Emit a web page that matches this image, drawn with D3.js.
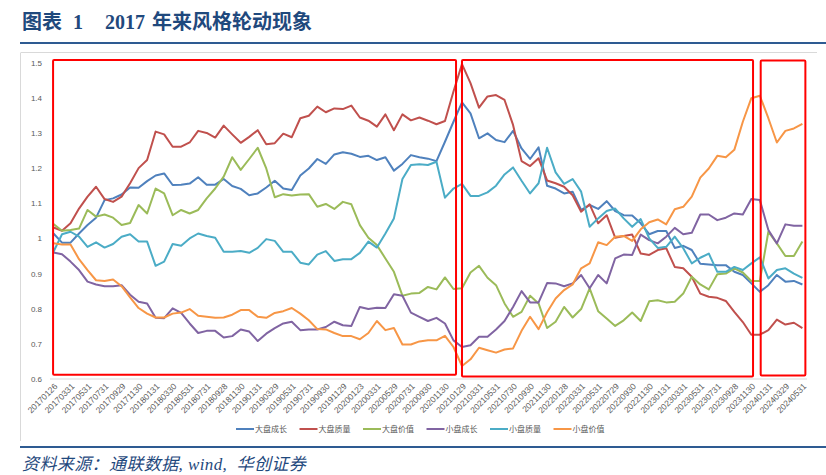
<!DOCTYPE html>
<html>
<head>
<meta charset="utf-8">
<script src="https://cdn.jsdelivr.net/npm/d3@7"></script>
<style>
    body { margin: 0; background: #fff; }
    .axis text { font-family: "Liberation Sans", Arial, sans-serif; fill: #595959; }
    .axis path, .axis line { stroke: none; }
    .legend--label { font-family: "Noto Sans CJK SC", sans-serif; font-size: 8px; fill: #595959; }
</style>
</head>
<body>
<div id="chart"></div>
<script>

/*
DATA
*/
const dates = [
    "20170126","20170228","20170331","20170428","20170531","20170630","20170731","20170831","20170929","20171031","20171130","20171229",
    "20180131","20180228","20180330","20180427","20180531","20180629","20180731","20180831","20180928","20181031","20181130","20181228",
    "20190131","20190228","20190329","20190430","20190531","20190628","20190731","20190830","20190930","20191031","20191129","20191231",
    "20200123","20200228","20200331","20200430","20200529","20200630","20200731","20200831","20200930","20201030","20201130","20201231",
    "20210129","20210226","20210331","20210430","20210531","20210630","20210730","20210831","20210930","20211029","20211130","20211231",
    "20220128","20220228","20220331","20220429","20220531","20220630","20220729","20220831","20220930","20221031","20221130","20221230",
    "20230131","20230228","20230331","20230428","20230531","20230630","20230731","20230831","20230928","20231031","20231130","20231229",
    "20240131","20240229","20240329","20240430","20240531"
];

const seriesNames = ["大盘成长", "大盘质量", "大盘价值", "小盘成长", "小盘质量", "小盘价值"];

const bigGrowth = [
    1.014, 0.988, 0.988, 1.014, 1.038, 1.059, 1.109, 1.114, 1.125, 1.145,
    1.144, 1.163, 1.179, 1.185, 1.152, 1.153, 1.156, 1.174, 1.153, 1.153,
    1.169, 1.149, 1.141, 1.123, 1.128, 1.145, 1.164, 1.142, 1.138, 1.179,
    1.199, 1.226, 1.212, 1.239, 1.245, 1.241, 1.232, 1.235, 1.223, 1.231,
    1.193, 1.212, 1.237, 1.231, 1.227, 1.220, 1.275, 1.332, 1.387, 1.356,
    1.285, 1.299, 1.280, 1.274, 1.306, 1.256, 1.226, 1.259, 1.150, 1.142,
    1.128, 1.133, 1.081, 1.095, 1.084, 1.106, 1.078, 1.066, 1.065, 1.043,
    1.012, 1.021, 1.021, 0.973, 0.979, 0.967, 0.928, 0.926, 0.924, 0.924,
    0.905, 0.896, 0.872, 0.848, 0.867, 0.896, 0.877, 0.879, 0.869
];

const bigQuality = [
    1.031, 1.022, 1.043, 1.085, 1.119, 1.147, 1.112, 1.104, 1.119, 1.157,
    1.200, 1.223, 1.304, 1.296, 1.261, 1.261, 1.273, 1.306, 1.300, 1.287,
    1.321, 1.296, 1.272, 1.289, 1.308, 1.268, 1.271, 1.298, 1.288, 1.342,
    1.349, 1.375, 1.359, 1.370, 1.368, 1.378, 1.344, 1.335, 1.318, 1.353,
    1.308, 1.353, 1.336, 1.344, 1.335, 1.325, 1.334, 1.418, 1.496, 1.442,
    1.372, 1.404, 1.408, 1.394, 1.323, 1.220, 1.206, 1.228, 1.165, 1.157,
    1.147, 1.123, 1.076, 1.097, 1.043, 1.066, 1.002, 1.007, 1.011, 0.957,
    0.953, 0.967, 0.972, 0.919, 0.915, 0.891, 0.843, 0.834, 0.831, 0.822,
    0.791, 0.762, 0.726, 0.726, 0.739, 0.769, 0.755, 0.760, 0.745
];

const bigValue = [
    1.041, 1.022, 1.024, 1.028, 1.081, 1.062, 1.068, 1.059, 1.038, 1.044,
    1.095, 1.071, 1.142, 1.128, 1.066, 1.081, 1.071, 1.081, 1.114, 1.142,
    1.176, 1.231, 1.195, 1.226, 1.258, 1.199, 1.117, 1.126, 1.122, 1.125,
    1.126, 1.090, 1.098, 1.084, 1.104, 1.097, 1.038, 1.002, 0.981, 0.943,
    0.905, 0.837, 0.843, 0.845, 0.862, 0.855, 0.889, 0.856, 0.858, 0.903,
    0.922, 0.888, 0.867, 0.815, 0.777, 0.791, 0.837, 0.815, 0.745, 0.763,
    0.805, 0.775, 0.799, 0.858, 0.793, 0.772, 0.751, 0.767, 0.789, 0.765,
    0.821, 0.824, 0.818, 0.820, 0.843, 0.891, 0.869, 0.855, 0.898, 0.900,
    0.915, 0.903, 0.879, 0.879, 1.019, 0.986, 0.950, 0.950, 0.991
];

const smallGrowth = [
    0.960, 0.955, 0.934, 0.910, 0.877, 0.869, 0.864, 0.864, 0.867, 0.840,
    0.820, 0.815, 0.774, 0.773, 0.801, 0.788, 0.758, 0.731, 0.737, 0.737,
    0.718, 0.722, 0.741, 0.735, 0.708, 0.729, 0.745, 0.758, 0.763, 0.739,
    0.741, 0.741, 0.748, 0.763, 0.753, 0.751, 0.805, 0.799, 0.803, 0.802,
    0.841, 0.837, 0.789, 0.777, 0.765, 0.774, 0.758, 0.710, 0.691, 0.696,
    0.720, 0.720, 0.741, 0.765, 0.805, 0.850, 0.818, 0.818, 0.873, 0.872,
    0.864, 0.872, 0.896, 0.858, 0.896, 0.872, 0.943, 0.954, 0.953, 1.011,
    0.995, 0.986, 1.005, 1.030, 1.012, 1.016, 1.068, 1.068, 1.052, 1.059,
    1.071, 1.068, 1.112, 1.109, 1.024, 0.986, 1.040, 1.036, 1.036
];

const smallQuality = [
    0.962, 1.012, 1.019, 1.005, 0.976, 0.989, 0.974, 0.984, 1.005, 1.012,
    0.991, 0.991, 0.922, 0.934, 0.984, 0.979, 1.000, 1.014, 1.007, 1.002,
    0.962, 0.962, 0.964, 0.959, 0.973, 0.998, 0.993, 0.962, 0.962, 0.931,
    0.926, 0.954, 0.964, 0.936, 0.941, 0.941, 0.959, 0.991, 0.974, 1.014,
    1.057, 1.169, 1.209, 1.211, 1.209, 1.218, 1.116, 1.142, 1.155, 1.121,
    1.121, 1.131, 1.150, 1.182, 1.202, 1.164, 1.128, 1.157, 1.258, 1.188,
    1.155, 1.169, 1.133, 1.033, 1.057, 1.078, 1.085, 1.057, 1.033, 1.055,
    1.000, 0.973, 0.976, 1.005, 0.972, 0.929, 0.945, 0.957, 0.905, 0.905,
    0.919, 0.910, 0.929, 0.946, 0.886, 0.910, 0.915, 0.900, 0.888
];

const smallValue = [
    0.986, 0.983, 0.983, 0.941, 0.910, 0.881, 0.879, 0.883, 0.864, 0.832,
    0.802, 0.786, 0.775, 0.775, 0.786, 0.789, 0.799, 0.780, 0.777, 0.774,
    0.775, 0.783, 0.796, 0.796, 0.777, 0.774, 0.788, 0.793, 0.802, 0.786,
    0.767, 0.742, 0.741, 0.731, 0.722, 0.722, 0.713, 0.731, 0.765, 0.739,
    0.745, 0.698, 0.698, 0.707, 0.710, 0.710, 0.723, 0.691, 0.637, 0.656,
    0.689, 0.682, 0.675, 0.684, 0.687, 0.737, 0.777, 0.742, 0.790, 0.829,
    0.853, 0.869, 0.915, 0.929, 0.989, 0.981, 1.005, 1.007, 0.993, 1.026,
    1.046, 1.054, 1.040, 1.083, 1.090, 1.119, 1.173, 1.199, 1.235, 1.231,
    1.252, 1.332, 1.399, 1.406, 1.342, 1.273, 1.306, 1.313, 1.326
];

const yTicks = [0.6, 0.7, 0.8, 0.9, 1, 1.1, 1.2, 1.3, 1.4, 1.5];

// red boxes marking the three phases, in month index / value units
const phases = [
    {from: -0.05, to: 47.3, top: 1.508, bottom: 0.612},
    {from: 48.0, to: 82.2, top: 1.508, bottom: 0.607},
    {from: 83.1, to: 88.35, top: 1.506, bottom: 0.61}
];

const allSeries = [bigGrowth, bigQuality, bigValue, smallGrowth, smallQuality, smallValue];

/*
SVG CANVAS
*/
const width = 826;
const height = 475;
const margin = {top: 62.7, left: 53.5, right: 24, bottom: 96};

const svg = d3.select("#chart")
    .append("svg")
    .attr("width", width)
    .attr("height", height);

/*
TITLE + RULES
*/
const title = svg.append("text")
    .attr("y", 29)
    .attr("font-family", "'Liberation Serif', 'Noto Sans CJK SC', serif")
    .attr("font-weight", "bold")
    .attr("font-size", 20)
    .attr("fill", "#1F497D");
title.append("tspan").attr("x", 22).text("图表");
title.append("tspan").attr("x", 73).text("1");
title.append("tspan").attr("x", 105).text("2017");
title.append("tspan").attr("x", 152).text("年来风格轮动现象");

svg.append("line")
    .attr("x1", 20).attr("x2", width)
    .attr("y1", 43).attr("y2", 43)
    .attr("stroke", "#2E5B92")
    .attr("stroke-width", 2);

svg.append("line")
    .attr("x1", 20).attr("x2", width)
    .attr("y1", 447).attr("y2", 447)
    .attr("stroke", "#2E5B92")
    .attr("stroke-width", 2);

svg.append("text")
    .attr("x", 22)
    .attr("y", 470)
    .style("white-space", "pre")
    .attr("font-family", "'Liberation Serif', 'Noto Sans CJK SC', serif")
    .attr("font-style", "italic")
    .attr("font-size", 17)
    .attr("letter-spacing", 0.4)
    .attr("fill", "#1F497D")
    .text("资料来源：通联数据, wind,  华创证券");

// chart area frame (top + left only visible)
svg.append("line")
    .attr("x1", 21).attr("x2", 817)
    .attr("y1", 52.5).attr("y2", 52.5)
    .attr("stroke", "#D9D9D9");
svg.append("line")
    .attr("x1", 20.5).attr("x2", 20.5)
    .attr("y1", 52.5).attr("y2", 441)
    .attr("stroke", "#D9D9D9");

/*
SCALES
*/
const xScale = d3.scaleLinear()
    .domain([0, dates.length - 1])
    .range([margin.left, 802.4]);

const yScale = d3.scaleLinear()
    .domain([0.6, 1.5])
    .range([379, margin.top]);

const colorScale = d3.scaleOrdinal()
    .domain(seriesNames)
    .range(["#4F81BD", "#C0504D", "#9BBB59", "#8064A2", "#4BACC6", "#F79646"]);

/*
AXES
*/
svg.append("line")
    .attr("x1", 50).attr("x2", 807)
    .attr("y1", yScale(0.6)).attr("y2", yScale(0.6))
    .attr("stroke", "#D9D9D9");

const yAxis = svg.append("g")
    .attr("class", "axis")
    .attr("transform", `translate(46,0)`)
    .call(d3.axisLeft(yScale).tickValues(yTicks).tickSize(0).tickPadding(4)
        .tickFormat(d => String(+d.toFixed(1))));
yAxis.selectAll("text").attr("font-size", 8);

const tickIdx = d3.range(0, dates.length, 2);

const xAxis = svg.append("g")
    .attr("class", "axis")
    .attr("transform", `translate(0,${yScale(0.6)})`)
    .call(d3.axisBottom(xScale).tickValues(tickIdx).tickSize(0)
        .tickFormat(i => dates[i]));
xAxis.selectAll("text")
    .attr("font-size", 8.5)
    .attr("text-anchor", "end")
    .attr("dy", 0)
    .attr("y", 0)
    .attr("transform", "translate(4,8) rotate(-45)");

/*
LINES
*/
const line = d3.line()
    .x((d, i) => xScale(i))
    .y(d => yScale(d));

svg.selectAll(".series")
    .data(allSeries)
    .enter()
    .append("path")
        .attr("class", "series")
        .attr("d", d => line(d))
        .attr("fill", "none")
        .attr("stroke", (d, i) => colorScale(seriesNames[i]))
        .attr("stroke-width", 2)
        .attr("stroke-linejoin", "round");

/*
PHASE BOXES
*/
svg.selectAll(".phase")
    .data(phases)
    .enter()
    .append("rect")
        .attr("class", "phase")
        .attr("x", d => xScale(d.from))
        .attr("y", d => yScale(d.top))
        .attr("width", d => xScale(d.to) - xScale(d.from))
        .attr("height", d => yScale(d.bottom) - yScale(d.top))
        .attr("rx", 1)
        .attr("fill", "none")
        .attr("stroke", "#FF0000")
        .attr("stroke-width", 2);

/*
LEGEND
*/
const legend = svg.append("g")
    .attr("transform", "translate(236,429)");

seriesNames.forEach(function(name, i) {
    legend.append("line")
        .attr("x1", i * 63.5)
        .attr("x2", i * 63.5 + 18)
        .attr("stroke", colorScale(name))
        .attr("stroke-width", 2);

    legend.append("text")
        .attr("class", "legend--label")
        .attr("x", i * 63.5 + 19)
        .attr("y", 3)
        .text(name);
});

</script>
</body>
</html>
